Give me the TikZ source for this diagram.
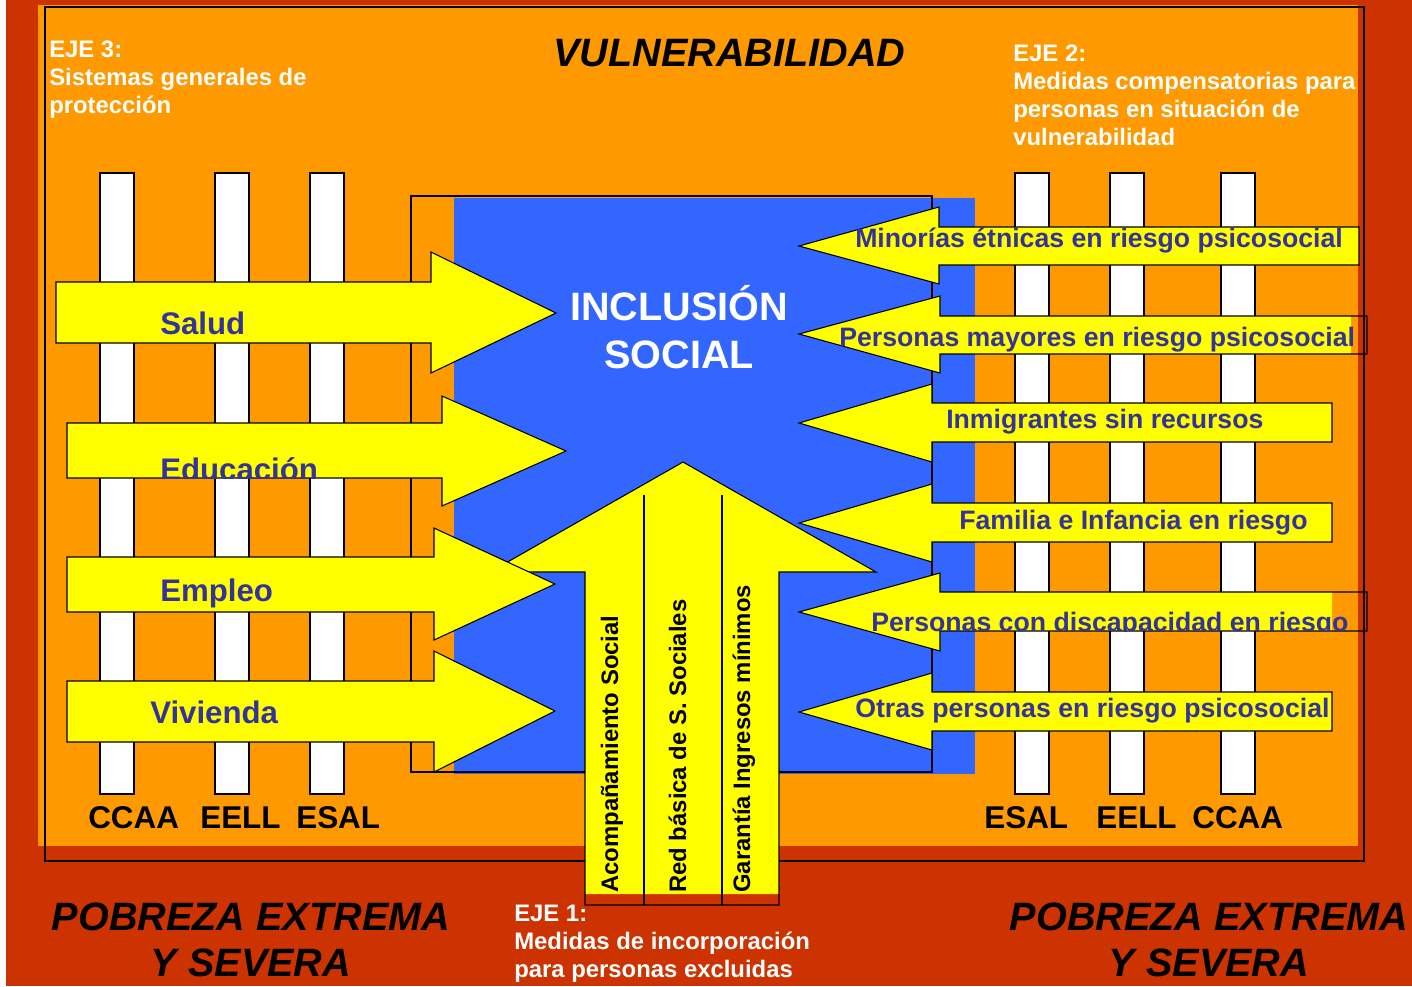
\documentclass[tikz,border=0pt]{standalone}
\usepackage{fontspec}
\setmainfont{Liberation Sans}
\definecolor{redbg}{HTML}{CC3300}
\definecolor{orangebg}{HTML}{FF9900}
\definecolor{bluebox}{HTML}{3366FF}
\definecolor{yellowarr}{HTML}{FFFF00}
\definecolor{labelblue}{HTML}{333399}
\tikzset{
  arrowshape/.style={fill=yellowarr, draw=black, line width=0.8pt},
  barshape/.style={fill=white, draw=black, line width=0.8pt},
  ejetext/.style={anchor=base west, inner sep=0pt, text=white, font=\fontsize{17.9}{21}\selectfont\bfseries},
  lefttext/.style={anchor=base west, inner sep=0pt, text=labelblue, font=\fontsize{23.4}{28}\selectfont\bfseries},
  righttext/.style={anchor=base west, inner sep=0pt, text=labelblue, font=\fontsize{20}{24}\selectfont\bfseries},
  uptext/.style={anchor=base west, inner sep=0pt, rotate=90, font=\fontsize{17.9}{21}\selectfont\bfseries},
  agenttext/.style={anchor=base west, inner sep=0pt, font=\fontsize{23.6}{28}\selectfont\bfseries},
  povertytext/.style={anchor=base, inner sep=0pt, font=\fontsize{29.7}{36}\selectfont\bfseries\itshape}
}
\begin{document}
\begin{tikzpicture}[x=0.75pt,y=-0.75pt]
\useasboundingbox (0,0) rectangle (1412,986);
\fill[redbg] (6,0) rectangle (1412,986);
\fill[orangebg] (38,5) rectangle (1358,846);
\draw[line width=0.9pt] (45,7) rectangle (1364,861);

% pilares
\foreach \x in {100,215,310,1015,1110,1221}
  \draw[barshape] (\x,173) rectangle ++(34,621);

% inclusion
\fill[bluebox] (454,198) rectangle (975,774);
\draw[line width=0.9pt] (411,196) rectangle (932,772);
\node [anchor=base, inner sep=0pt, text=white, font=\fontsize{29.7}{36}\selectfont\bfseries] (inclusion) at (679,320) {INCLUSIÓN};
\node [anchor=base, inner sep=0pt, text=white, font=\fontsize{29.7}{36}\selectfont\bfseries] (social) at ([yshift=-36pt]inclusion.base) {SOCIAL};

% eje 1
\fill[yellowarr] (683,462) -- (876,572) -- (779,572) -- (779,894) -- (585,894) -- (585,572) -- (490,572) -- cycle;
\draw[line width=0.8pt] (683,462) -- (876,572) -- (779,572) -- (779,905) -- (585,905) -- (585,572) -- (490,572) -- cycle;
\draw[line width=0.8pt] (644,495) -- (644,905);
\draw[line width=0.8pt] (722,495) -- (722,905);
\node [uptext] (acomp) at (618,893) {Acompañamiento Social};
\node [uptext] (red) at (686,893) {Red básica de S. Sociales};
\node [uptext] (garantia) at (750,893) {Garantía Ingresos mínimos};

% eje 3
\draw[arrowshape] (56,282) -- (431,282) -- (431,252) -- (556,313) -- (431,373) -- (431,343) -- (56,343) -- cycle;
\draw[arrowshape] (67,423) -- (442,423) -- (442,396) -- (566,451) -- (442,506) -- (442,478) -- (67,478) -- cycle;
\draw[arrowshape] (67,557) -- (434,557) -- (434,528) -- (555,584) -- (434,640) -- (434,612) -- (67,612) -- cycle;
\draw[arrowshape] (67,681) -- (434,681) -- (434,651) -- (555,711) -- (434,772) -- (434,742) -- (67,742) -- cycle;
\node [lefttext] (salud) at (160,334) {Salud};
\begin{scope}
\clip (67,423) rectangle (442,478);
\node [lefttext] (educacion) at (160,480) {Educación};
\end{scope}
\node [lefttext] (empleo) at (160,601) {Empleo};
\node [lefttext] (vivienda) at (150,723) {Vivienda};

% eje 2
\draw[arrowshape] (799,246) -- (939,207) -- (939,227) -- (1359,227) -- (1359,265) -- (939,265) -- (939,284) -- cycle;
\fill[yellowarr] (799,334) -- (940,296) -- (940,316) -- (1351,316) -- (1351,354) -- (940,354) -- (940,373) -- cycle;
\draw[line width=0.8pt] (799,334) -- (940,296) -- (940,316) -- (1367,316) -- (1367,354) -- (940,354) -- (940,373) -- cycle;
\draw[arrowshape] (799,423) -- (932,384) -- (932,403) -- (1332,403) -- (1332,442) -- (932,442) -- (932,462) -- cycle;
\draw[arrowshape] (799,523) -- (932,484) -- (932,503) -- (1332,503) -- (1332,542) -- (932,542) -- (932,562) -- cycle;
\fill[yellowarr] (799,612) -- (940,573) -- (940,592) -- (1332,592) -- (1332,631) -- (940,631) -- (940,651) -- cycle;
\draw[line width=0.8pt] (799,612) -- (940,573) -- (940,592) -- (1367,592) -- (1367,631) -- (940,631) -- (940,651) -- cycle;
\draw[arrowshape] (799,712) -- (932,673) -- (932,692) -- (1332,692) -- (1332,731) -- (932,731) -- (932,750) -- cycle;
\node [righttext] (minorias) at (855,247) {Minorías étnicas en riesgo psicosocial};
\node [righttext] (mayores) at (839,346) {Personas mayores en riesgo psicosocial};
\node [righttext] (inmigrantes) at (946,428) {Inmigrantes sin recursos};
\node [righttext] (familia) at (959,529) {Familia e Infancia en riesgo};
\begin{scope}
\clip (799,560) rectangle (1367,631);
\node [righttext] (discapacidad) at (871,631) {Personas con discapacidad en riesgo};
\end{scope}
\node [righttext] (otras) at (855,717) {Otras personas en riesgo psicosocial};

% textos
\node [anchor=base west, inner sep=0pt, font=\fontsize{29.7}{36}\selectfont\bfseries\itshape] (titulo) at (553,66) {VULNERABILIDAD};
\node [ejetext] (eje3a) at (49,57) {EJE 3:};
\node [ejetext] (eje3b) at ([yshift=-21pt]eje3a.base west) {Sistemas generales de};
\node [ejetext] (eje3c) at ([yshift=-21pt]eje3b.base west) {protección};
\node [ejetext] (eje2a) at (1013,61) {EJE 2:};
\node [ejetext] (eje2b) at ([yshift=-21pt]eje2a.base west) {Medidas compensatorias para};
\node [ejetext] (eje2c) at ([yshift=-21pt]eje2b.base west) {personas en situación de};
\node [ejetext] (eje2d) at ([yshift=-21pt]eje2c.base west) {vulnerabilidad};
\node [ejetext] (eje1a) at (514,921) {EJE 1:};
\node [ejetext] (eje1b) at ([yshift=-21pt]eje1a.base west) {Medidas de incorporación};
\node [ejetext] (eje1c) at ([yshift=-21pt]eje1b.base west) {para personas excluidas};

\node [agenttext] (ccaa1) at (88,828) {CCAA};
\node [agenttext] (eell1) at (200,828) {EELL};
\node [agenttext] (esal1) at (296,828) {ESAL};
\node [agenttext] (esal2) at (984,828) {ESAL};
\node [agenttext] (eell2) at (1096,828) {EELL};
\node [agenttext] (ccaa2) at (1192,828) {CCAA};

\node [povertytext] (pobreza1) at (251,930) {POBREZA EXTREMA};
\node [povertytext] (severa1) at ([yshift=-35pt]pobreza1.base) {Y SEVERA};
\node [povertytext] (pobreza2) at (1209,930) {POBREZA EXTREMA};
\node [povertytext] (severa2) at ([yshift=-35pt]pobreza2.base) {Y SEVERA};
\end{tikzpicture}
\end{document}
